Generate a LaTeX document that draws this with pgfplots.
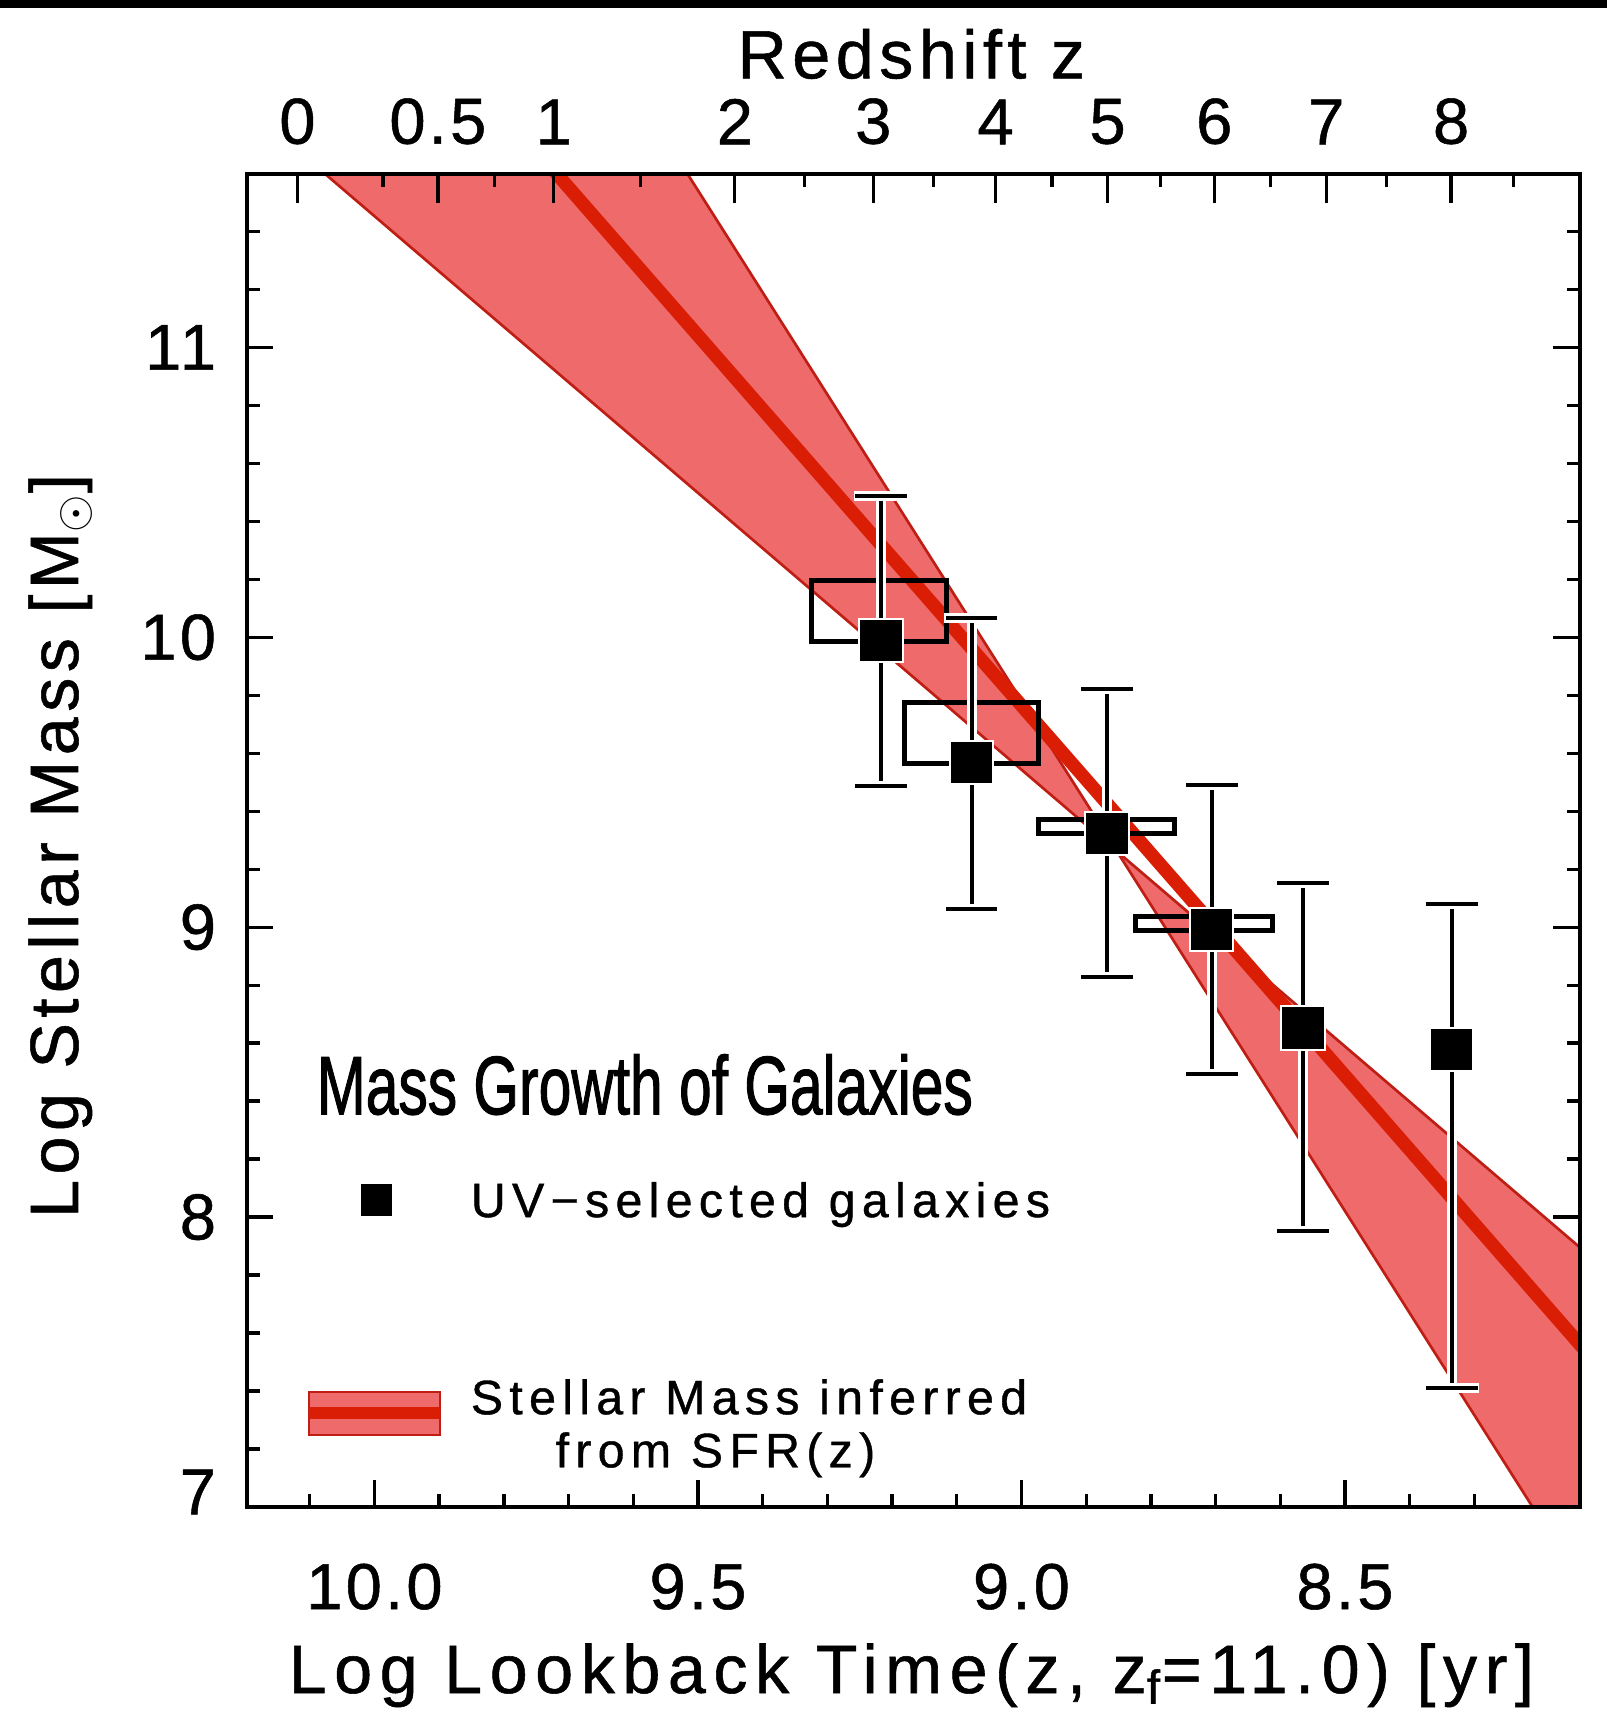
\documentclass[border=0pt]{standalone}
\usepackage{pgfplots}
\pgfplotsset{compat=1.18}
\usepackage{graphicx}
\usepackage{fontspec}
\setmainfont{Liberation Sans}
\newfontfamily\tickfont[LetterSpace=5,FakeBold=0.8]{Liberation Sans}
\newfontfamily\labfont[LetterSpace=8,FakeBold=0.8]{Liberation Sans}
\newfontfamily\xlabfont[LetterSpace=11,FakeBold=0.8]{Liberation Sans}
\newfontfamily\legfont[LetterSpace=13,FakeBold=0.8]{Liberation Sans}
\newfontfamily\titlefont[FakeBold=1.5]{Liberation Sans}
\definecolor{bandfill}{RGB}{239,106,106}
\definecolor{bandedge}{RGB}{190,30,20}
\definecolor{centerred}{RGB}{218,30,5}
\begin{document}
\begin{tikzpicture}[x=1pt,y=1pt]
\useasboundingbox (-74pt,-68.4pt) rectangle (408.1pt,452.1pt);
\fill[white] (-74pt,-68.4pt) rectangle (408.1pt,452.1pt);
\fill[black] (-74pt,449.7pt) rectangle (408.1pt,452.1pt);
\begin{axis}[
  at={(0pt,0pt)}, anchor=south west,
  width=400pt, height=399.9pt, scale only axis,
  x dir=reverse, xmin=8.1368, xmax=10.1975, ymin=7, ymax=11.598,
  xtick={10,9.5,9,8.5}, xticklabels={10.0,9.5,9.0,8.5},
  minor xtick={8.2,8.3,8.4,8.6,8.7,8.8,8.9,9.1,9.2,9.3,9.4,9.6,9.7,9.8,9.9,10.1},
  ytick={7,8,9,10,11}, yticklabels={\raisebox{9pt}{7},8,9,10,11},
  minor ytick={7.2,7.4,7.6,7.8,8.2,8.4,8.6,8.8,9.2,9.4,9.6,9.8,10.2,10.4,10.6,10.8,11.2,11.4},
  xtick pos=left, ytick pos=both, tick align=inside,
  major tick length=8pt, minor tick length=4pt,
  axis line style={line width=1.2pt},
  every tick/.style={black, line width=1pt},
  /pgf/number format/assume math mode=true,
  ticklabel style={font=\fontsize{19.5}{23}\selectfont\tickfont, inner sep=0pt},
  xticklabel style={anchor=north, yshift=-16.8pt},
  yticklabel style={anchor=east, xshift=-9pt},
  clip=true,
]
% band
\addplot[fill=bandfill, draw=none] coordinates {(10.1295,11.7) (8.0,7.634) (8.0,6.9) (8.1816,6.9) (9.545,11.7)} --cycle;
\addplot[bandedge, line width=0.8pt] coordinates {(10.1295,11.7) (8.0,7.634)};
\addplot[bandedge, line width=0.8pt] coordinates {(9.545,11.7) (8.1816,6.9)};
\addplot[centerred, line width=4pt] coordinates {(9.758,11.7) (8.0,7.211)};
% boxes
\addplot[black, line width=1.5pt, line join=miter] coordinates {(9.325,9.985) (9.116,9.985) (9.116,10.195) (9.325,10.195)} --cycle;
\addplot[black, line width=1.5pt, line join=miter] coordinates {(9.181,9.565) (8.974,9.565) (8.974,9.776) (9.181,9.776)} --cycle;
\addplot[black, line width=1.5pt, line join=miter] coordinates {(8.974,9.323) (8.763,9.323) (8.763,9.370) (8.974,9.370)} --cycle;
\addplot[black, line width=1.5pt, line join=miter] coordinates {(8.823,8.990) (8.612,8.990) (8.612,9.037) (8.823,9.037)} --cycle;
% error bars: white halo
\addplot[white, only marks, mark=square*, mark size=6.5pt, mark options={white},
  error bars/.cd, y dir=both, y explicit, error mark=none,
  error bar style={line width=3pt, white}]
coordinates {
(9.217,9.990) += (0,0.499) -= (0,0.504)
(9.077,9.568) += (0,0.498) -= (0,0.504)
(8.868,9.323) += (0,0.499) -= (0,0.495)
(8.706,8.992) += (0,0.499) -= (0,0.497)
(8.565,8.652) += (0,0.500) -= (0,0.699)
(8.335,8.577) += (0,0.502) -= (0,1.166)
};
\addplot[only marks, mark=-, mark size=8.2pt, mark options={white, line width=3pt}]
coordinates {(9.217,10.489) (9.217,9.486) (9.077,10.066) (9.077,9.064) (8.868,9.822) (8.868,8.828)
 (8.706,9.491) (8.706,8.495) (8.565,9.152) (8.565,7.953) (8.335,9.079) (8.335,7.411)};
% error bars: black
\addplot[black, only marks, mark=none,
  error bars/.cd, y dir=both, y explicit, error mark=none,
  error bar style={line width=1.2pt, black}]
coordinates {
(9.217,9.990) += (0,0.499) -= (0,0.504)
(9.077,9.568) += (0,0.498) -= (0,0.504)
(8.868,9.323) += (0,0.499) -= (0,0.495)
(8.706,8.992) += (0,0.499) -= (0,0.497)
(8.565,8.652) += (0,0.500) -= (0,0.699)
(8.335,8.577) += (0,0.502) -= (0,1.166)
};
\addplot[only marks, mark=-, mark size=7.75pt, mark options={black, line width=1.2pt}]
coordinates {(9.217,10.489) (9.217,9.486) (9.077,10.066) (9.077,9.064) (8.868,9.822) (8.868,8.828)
 (8.706,9.491) (8.706,8.495) (8.565,9.152) (8.565,7.953) (8.335,9.079) (8.335,7.411)};
% squares
\addplot[only marks, mark=square*, mark size=6.5pt, mark options={fill=black, draw=white, line width=0.6pt}]
coordinates {(9.217,9.990) (9.077,9.568) (8.868,9.323) (8.706,8.992) (8.565,8.652) (8.335,8.577)};
% legend
\addplot[only marks, mark=square*, mark size=4.5pt, mark options={fill=black, draw=black}] coordinates {(9.997,8.059)};
\addplot[fill=bandfill, draw=bandedge, line width=0.6pt] coordinates {(10.101,7.249) (9.898,7.249) (9.898,7.398) (10.101,7.398)} --cycle;
\addplot[fill=centerred, draw=none] coordinates {(10.101,7.302) (9.898,7.302) (9.898,7.346) (10.101,7.346)} --cycle;
\node[anchor=base west, inner sep=0pt] at (axis cs:10.090,8.355) {\resizebox{196.8pt}{18pt}{\titlefont Mass Growth of Galaxies}};
\node[anchor=base west, inner sep=0pt, font=\fontsize{14.5}{17}\selectfont\legfont] at (axis cs:9.852,8.0) {UV−selected galaxies};
\node[anchor=base west, inner sep=0pt, font=\fontsize{14.5}{17}\selectfont\legfont] at (axis cs:9.852,7.32) {Stellar Mass inferred};
\node[anchor=base west, inner sep=0pt, font=\fontsize{14.5}{17}\selectfont\legfont] at (axis cs:9.721,7.137) {from SFR(z)};
\end{axis}
% top redshift axis
\begin{axis}[
  at={(0pt,0pt)}, anchor=south west,
  width=400pt, height=399.9pt, scale only axis,
  x dir=reverse, xmin=8.1368, xmax=10.1975, ymin=7, ymax=11.598,
  xtick={10.119,9.902,9.723,9.443,9.229,9.040,8.867,8.702,8.529,8.336},
  xticklabels={0,0.5,1,2,3,4,5,6,7,8},
  minor xtick={9.987,9.814,9.589,9.335,9.136,8.953,8.785,8.615,8.436,8.240},
  ytick=\empty,
  xtick pos=right, xticklabel pos=right, tick align=inside,
  major tick length=8.6pt, minor tick length=4pt,
  axis line style={line width=1.2pt},
  every tick/.style={black, line width=1pt},
  ticklabel style={font=\fontsize{19.5}{23}\selectfont\tickfont, inner sep=0pt},
  xticklabel style={anchor=south, yshift=8.7pt},
]
\end{axis}
\node[anchor=base, inner sep=0pt, font=\fontsize{20.5}{24}\selectfont\xlabfont] at (199.4pt,-55.8pt) {Log Lookback Time(z, z\textsubscript{f}=11.0) [yr]};
\node[anchor=base, inner sep=0pt, rotate=90, font=\fontsize{20.5}{24}\selectfont\labfont] at (-50.6pt,198.3pt) {Log Stellar Mass [M$_\odot$]};
\node[anchor=base, inner sep=0pt, font=\fontsize{20.5}{24}\selectfont\labfont] at (199.4pt,428.6pt) {Redshift z};
\end{tikzpicture}
\end{document}
